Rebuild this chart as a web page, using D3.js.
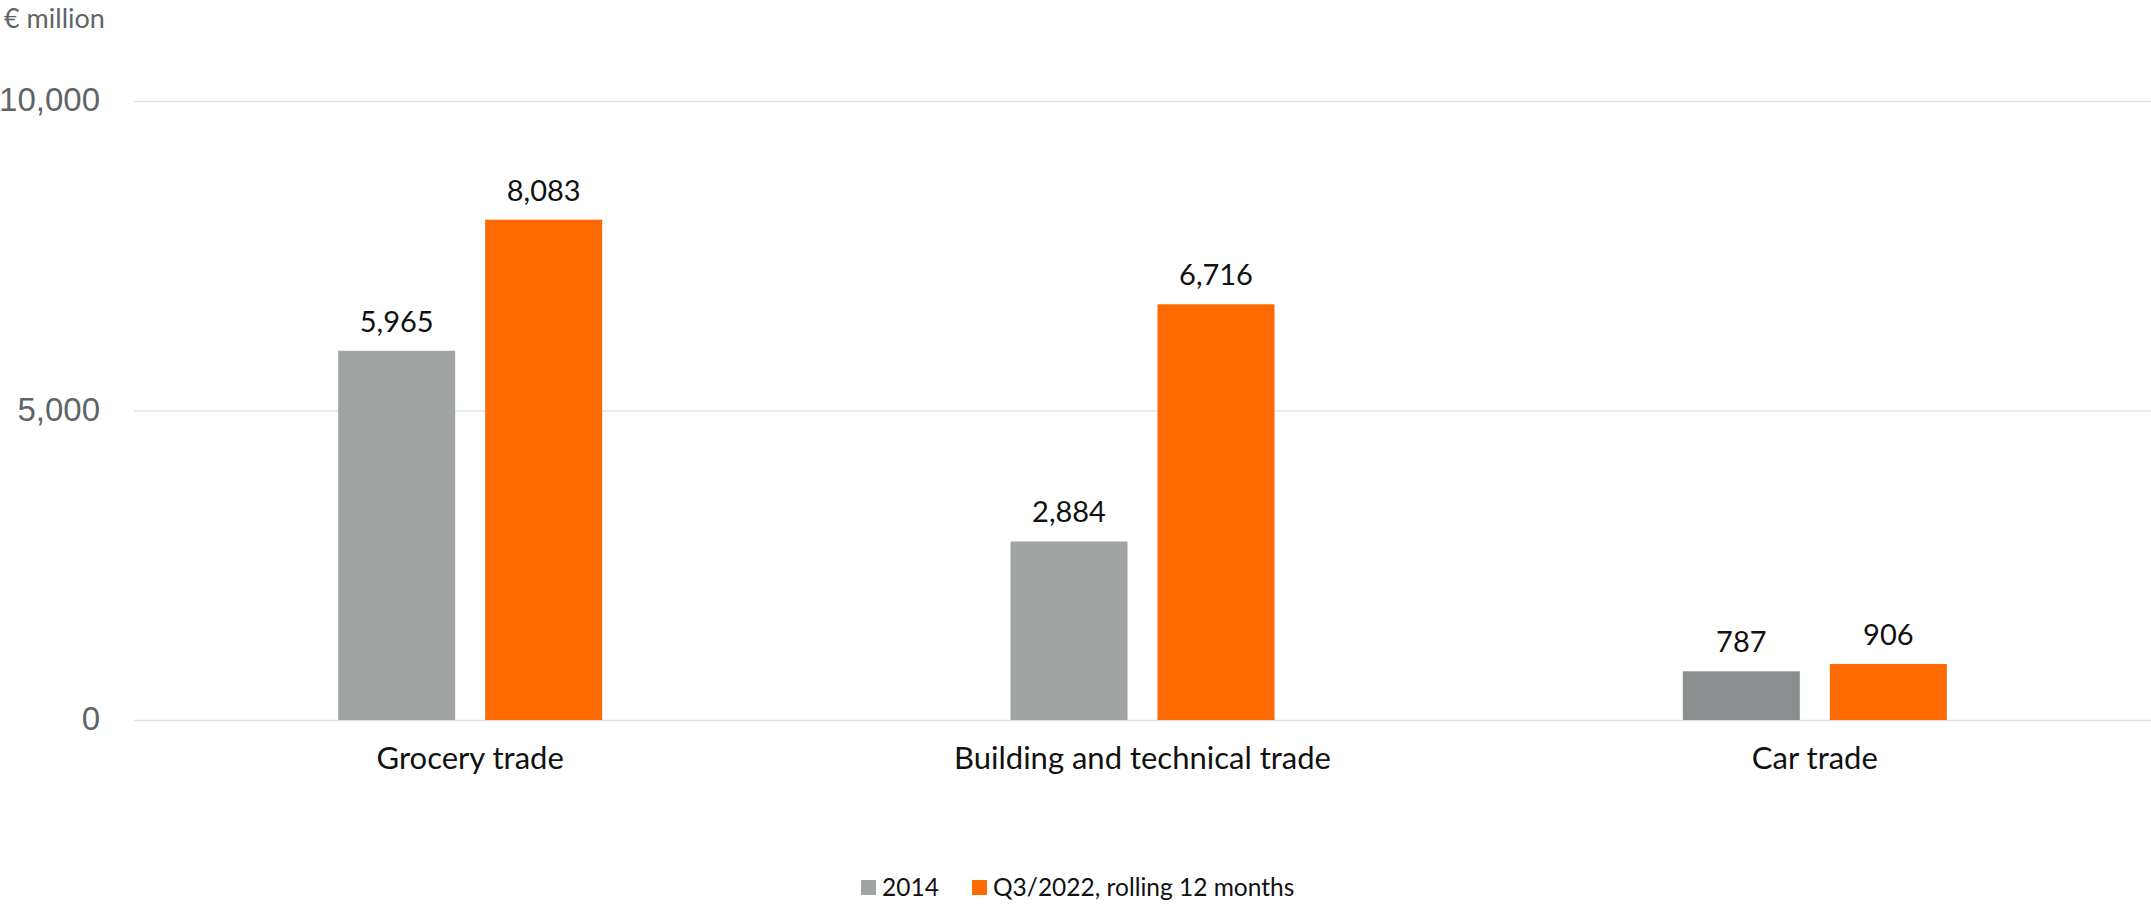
<!DOCTYPE html>
<html>
<head>
<meta charset="utf-8">
<script src="https://cdn.jsdelivr.net/npm/d3@7"></script>
<style>
  body { margin: 0; background: #fff; }
  svg { display: block; font-family: Lato, "Open Sans", sans-serif; }
</style>
</head>
<body>
<script>
// chart values
const categories = ["Grocery trade", "Building and technical trade", "Car trade"];
const series = ["2014", "Q3/2022, rolling 12 months"];
const values2014 = [5965, 2884, 787];
const values2022 = [8083, 6716, 906];
const yTicks = [0, 5000, 10000];
const unitLabel = "€ million";

// colours
const orange = "#ff6a00";
const grays2014 = ["#a0a4a3", "#a0a4a3", "#8b8f8f"];

const W = 2151, H = 904;
const svg = d3.select("body").append("svg")
  .attr("width", W)
  .attr("height", H);

const y = d3.scaleLinear().domain([0, 10000]).range([720, 101]);
const x0 = d3.scaleBand().domain(categories).range([134, W]);
const x1 = d3.scaleBand().domain(series).range([0, 264]).paddingInner(30 / 147);
const groupOffset = (x0.bandwidth() - 264) / 2;

// gridlines + y labels
const yAxis = d3.axisLeft(y)
  .tickValues(yTicks)
  .tickFormat(d3.format(","))
  .tickSize(-(W - 134))
  .tickPadding(34);

const gy = svg.append("g")
  .attr("transform", "translate(134,0)")
  .call(yAxis);
gy.select(".domain").remove();
gy.selectAll(".tick line").attr("stroke", "#dde3e3").attr("stroke-width", 1.5);
gy.selectAll(".tick text")
  .attr("fill", "#5f6566")
  .attr("font-size", 33)
  .attr("dy", "0.3em");

svg.append("text")
  .attr("x", 4).attr("y", 28)
  .attr("fill", "#5f6566")
  .attr("font-size", 27)
  .text(unitLabel);

// bars
const rows = categories.map((c, i) => ({
  cat: c,
  vals: [
    { s: series[0], v: values2014[i], color: grays2014[i] },
    { s: series[1], v: values2022[i], color: orange }
  ]
}));

const groups = svg.append("g").selectAll("g")
  .data(rows)
  .join("g")
  .attr("transform", d => `translate(${x0(d.cat) + groupOffset},0)`);

groups.selectAll("rect")
  .data(d => d.vals)
  .join("rect")
  .attr("x", d => x1(d.s))
  .attr("y", d => y(d.v))
  .attr("width", x1.bandwidth())
  .attr("height", d => y(0) - y(d.v))
  .attr("fill", d => d.color);

groups.selectAll("text.val")
  .data(d => d.vals)
  .join("text")
  .attr("class", "val")
  .attr("x", d => x1(d.s) + x1.bandwidth() / 2)
  .attr("y", d => y(d.v) - 19)
  .attr("text-anchor", "middle")
  .attr("font-size", 29)
  .attr("fill", "#111")
  .text(d => d3.format(",")(d.v));

// category labels
svg.append("g").selectAll("text")
  .data(categories)
  .join("text")
  .attr("x", d => x0(d) + x0.bandwidth() / 2)
  .attr("y", 769)
  .attr("text-anchor", "middle")
  .attr("font-size", 31)
  .attr("fill", "#111")
  .text(d => d);

// legend
const legendItems = [
  { label: series[0], color: grays2014[0], x: 861 },
  { label: series[1], color: orange, x: 972 }
];
const lg = svg.append("g").selectAll("g")
  .data(legendItems)
  .join("g")
  .attr("transform", d => `translate(${d.x},0)`);
lg.append("rect")
  .attr("x", 0).attr("y", 880)
  .attr("width", 15).attr("height", 15)
  .attr("fill", d => d.color);
lg.append("text")
  .attr("x", 21).attr("y", 896)
  .attr("font-size", 24.5)
  .attr("fill", "#111")
  .text(d => d.label);
</script>
</body>
</html>
